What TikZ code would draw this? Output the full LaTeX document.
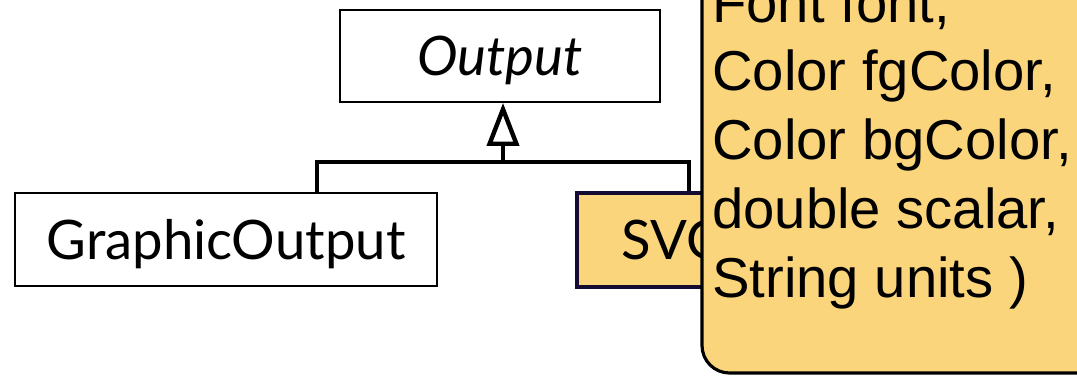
\documentclass[tikz,border=0pt]{standalone}
\usepackage{fontspec}
\setmainfont{Liberation Sans}
\newfontfamily\gill{Lato}
\usetikzlibrary{arrows.meta}

\definecolor{noteyellow}{RGB}{251,213,124}
\definecolor{svgborder}{RGB}{20,10,50}

\tikzset{
  classbox/.style={draw, line width=1.1pt, inner sep=0pt, text height=22.5pt, text depth=0pt,
    font=\gill\fontsize{31}{34}\selectfont},
  link/.style={line width=2.5pt},
  inherits/.style={-{Triangle[open,length=0.86cm,width=0.64cm]}},
  notebox/.style={fill=noteyellow, draw=black, line width=1.8pt, rounded corners=0.55cm},
  sigtext/.style={inner sep=0pt, align=left, font=\fontsize{32}{39.1}\selectfont}
}

\begin{document}
\begin{tikzpicture}[x=0.02cm,y=-0.02cm]
\useasboundingbox (0,0) rectangle (1077,376);
\clip (0,0) rectangle (1077,376);

% classes
\node[classbox, minimum width=6.4cm, minimum height=1.84cm] (output) at (500,56) {\itshape Output};
\node[classbox, minimum width=8.44cm, minimum height=1.86cm] (gfxout) at (226,239.5) {GraphicOutput};
\node[classbox, fill=noteyellow, draw=svgborder, line width=2pt, anchor=west, minimum height=1.88cm, inner xsep=0.9cm] (svgout) at (575,240) {SVGOutput};

% generalisation
\coordinate (join) at (503,162);
\coordinate (joinl) at (317,162);
\coordinate (joinr) at (689,162);
\draw[link] (gfxout.north -| joinl) -- (joinl) -- (joinr) -- (svgout.north -| joinr);
\draw[link,inherits] (join) -- (join |- output.south);

% tooltip over the diagram
\filldraw[notebox] (702,-40) -- (702,373) -- (1120,373) -- (1120,-40) -- cycle;
\node[sigtext, anchor=base west] (sig) at (712,297) {Font font,\\Color fgColor,\\Color bgColor,\\double scalar,\\String units )};
\end{tikzpicture}
\end{document}
